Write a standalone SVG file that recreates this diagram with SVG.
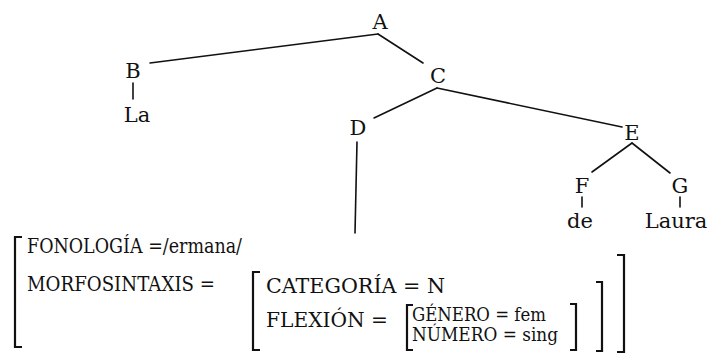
<svg xmlns="http://www.w3.org/2000/svg" width="708" height="354" viewBox="0 0 708 354">
<style>
text{font-family:'DejaVu Serif','Liberation Serif',serif;fill:#111}
.t{font-size:21px;text-anchor:middle}
.a{font-size:20px}
.s{font-size:18px}
.e{stroke:#111;stroke-width:1.6;fill:none;stroke-linecap:round}
.b{stroke:#111;stroke-width:2.2;fill:none}
</style>
<rect width="708" height="354" fill="#fff"/>
<g id="connectors">
<line class="e" x1="378" y1="34" x2="150" y2="63"/>
<line class="e" x1="378" y1="34" x2="423" y2="63"/>
<line class="e" x1="133" y1="83" x2="133" y2="99"/>
<line class="e" x1="437" y1="88" x2="374" y2="118"/>
<line class="e" x1="437" y1="88" x2="622" y2="127"/>
<line class="e" x1="357" y1="142" x2="355" y2="233"/>
<line class="e" x1="632" y1="143" x2="592" y2="172"/>
<line class="e" x1="632" y1="143" x2="670" y2="173"/>
<line class="e" x1="582" y1="197" x2="582" y2="207"/>
<line class="e" x1="680" y1="197" x2="680" y2="207"/>
</g>
<g id="A"><text class="t" x="380" y="29">A</text></g>
<g id="B"><text class="t" x="133" y="78">B</text></g>
<g id="La"><text class="t" x="137" y="122">La</text></g>
<g id="C"><text class="t" x="438" y="83">C</text></g>
<g id="D"><text class="t" x="358" y="135">D</text></g>
<g id="E"><text class="t" x="632" y="140">E</text></g>
<g id="F"><text class="t" x="582" y="193">F</text></g>
<g id="G"><text class="t" x="680" y="193">G</text></g>
<g id="de"><text class="t" x="580" y="228">de</text></g>
<g id="Laura"><text class="t" x="676" y="228">Laura</text></g>
<g id="avm">
<path class="b" d="M22,237 H15 V347 H22"/>
<path class="b" d="M260,272 H253 V350 H260"/>
<path class="b" d="M413,305 H407 V350 H413"/>
<path class="b" d="M570,304 H576 V350 H570"/>
<path class="b" d="M596,282 H602 V351 H596"/>
<path class="b" d="M617,255 H624 V352 H617"/>
<text class="a" x="27" y="253" textLength="215" lengthAdjust="spacingAndGlyphs">FONOLOGÍA =/ermana/</text>
<text class="a" x="27" y="291" textLength="188" lengthAdjust="spacingAndGlyphs">MORFOSINTAXIS =</text>
<text class="a" x="266" y="293" textLength="179" lengthAdjust="spacingAndGlyphs">CATEGORÍA = N</text>
<text class="a" x="266" y="327" textLength="122" lengthAdjust="spacingAndGlyphs">FLEXIÓN =</text>
<text class="s" x="412" y="321" textLength="134" lengthAdjust="spacingAndGlyphs">GÉNERO = fem</text>
<text class="s" x="412" y="341" textLength="146" lengthAdjust="spacingAndGlyphs">NÚMERO = sing</text>
</g>
</svg>
